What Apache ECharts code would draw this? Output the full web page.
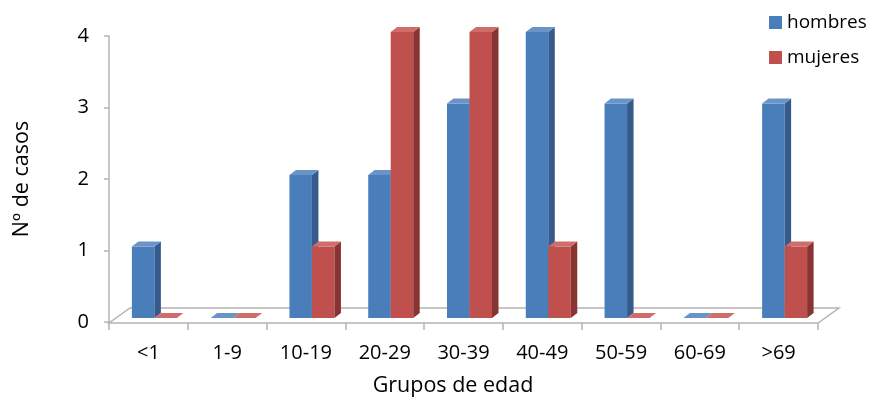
<!DOCTYPE html>
<html>
<head>
<meta charset="utf-8">
<script src="https://cdn.jsdelivr.net/npm/echarts@6/dist/echarts.min.js"></script>
<style>html,body{margin:0;padding:0;background:#fff;}#c{width:869px;height:397px;}</style>
</head>
<body>
<div id="c"></div>
<script>
const categories = ['<1','1-9','10-19','20-29','30-39','40-49','50-59','60-69','>69'];
const hombres = [1,0,2,2,3,4,3,0,3];
const mujeres = [0,0,1,4,4,1,0,0,1];
const seriesNames = ['hombres','mujeres'];
const yTicks = [0,1,2,3,4];

const FONT = '"Open Sans", sans-serif';
const palette = [
  {front:'#4A7EBB', side:'#345B8C', top:'#6A94C8'},
  {front:'#C0504D', side:'#873432', top:'#D06D6A'}
];
const BW = 22.5, OX = 6, OY = -4, DX = 6.5, DY = -5;

function barRender(s){
  return function(params, api){
    const idx = api.value(0), val = api.value(1);
    const base = api.coord([idx, 0]);
    const top = api.coord([idx, val]);
    const x0 = base[0] + OX + (s === 0 ? -BW : 0);
    const x1 = x0 + BW;
    const yb = base[1] + OY, yt = top[1] + OY;
    const c = palette[s];
    return {type:'group', children:[
      {type:'rect', shape:{x:x0, y:yt, width:BW, height:yb-yt}, style:{fill:c.front}},
      {type:'polygon', shape:{points:[[x1,yt],[x1+DX,yt+DY],[x1+DX,yb+DY],[x1,yb]]}, style:{fill:c.side}},
      {type:'polygon', shape:{points:[[x0,yt],[x0+DX,yt+DY],[x1+DX,yt+DY],[x1,yt]]}, style:{fill:c.top}}
    ]};
  };
}

function floorRender(params, api){
  const cs = params.coordSys;
  const yf = cs.y + cs.height + 1;
  return {type:'polygon', shape:{points:[[cs.x, yf],[cs.x+cs.width, yf],[cs.x+cs.width+21, yf-15],[cs.x+21, yf-15]]},
    style:{fill:'#ffffff', stroke:'#b4b4b4', lineWidth:1.5}};
}

const chart = echarts.init(document.getElementById('c'), null, {renderer:'canvas'});
chart.setOption({
  animation:false,
  backgroundColor:'#ffffff',
  grid:{left:109, right:51, top:36, bottom:75, containLabel:false, outerBoundsMode:'none'},
  legend:{
    orient:'vertical', left:764, top:8, itemWidth:13, itemHeight:13, itemGap:16,
    icon:'rect',
    data:seriesNames,
    textStyle:{fontFamily:FONT, fontSize:19, color:'#000'}
  },
  xAxis:{
    type:'category', data:categories,
    axisLine:{show:true, lineStyle:{color:'#b4b4b4', width:1.5}},
    axisTick:{show:true, length:8, lineStyle:{color:'#b4b4b4', width:1.5}},
    axisLabel:{fontFamily:FONT, fontSize:20, color:'#000', margin:21},
    name:'Grupos de edad', nameLocation:'middle', nameGap:53,
    nameTextStyle:{fontFamily:FONT, fontSize:21.5, color:'#000', padding:[0,21,0,0]}
  },
  yAxis:{
    type:'value', min:0, max:4, interval:1,
    axisLine:{show:true, lineStyle:{color:'#b4b4b4', width:1.5}},
    axisTick:{show:true, length:5, lineStyle:{color:'#b4b4b4', width:1.5}},
    splitLine:{show:false},
    axisLabel:{fontFamily:FONT, fontSize:20, color:'#000', margin:20,
      formatter:function(v){ return yTicks.indexOf(v) >= 0 ? String(v) : ''; }},
    name:'Nº de casos', nameLocation:'middle', nameGap:76,
    nameTextStyle:{fontFamily:FONT, fontSize:21.5, color:'#000'}
  },
  series:[
    {type:'custom', name:'floor', renderItem:floorRender, data:[[0,0]], silent:true, z:1, legendHoverLink:false},
    {type:'custom', name:seriesNames[0], renderItem:barRender(0), data:hombres.map((v,i)=>[i,v]), z:3,
      itemStyle:{color:palette[0].front}, encode:{x:0,y:1}},
    {type:'custom', name:seriesNames[1], renderItem:barRender(1), data:mujeres.map((v,i)=>[i,v]), z:4,
      itemStyle:{color:palette[1].front}, encode:{x:0,y:1}}
  ]
});
</script>
</body>
</html>
